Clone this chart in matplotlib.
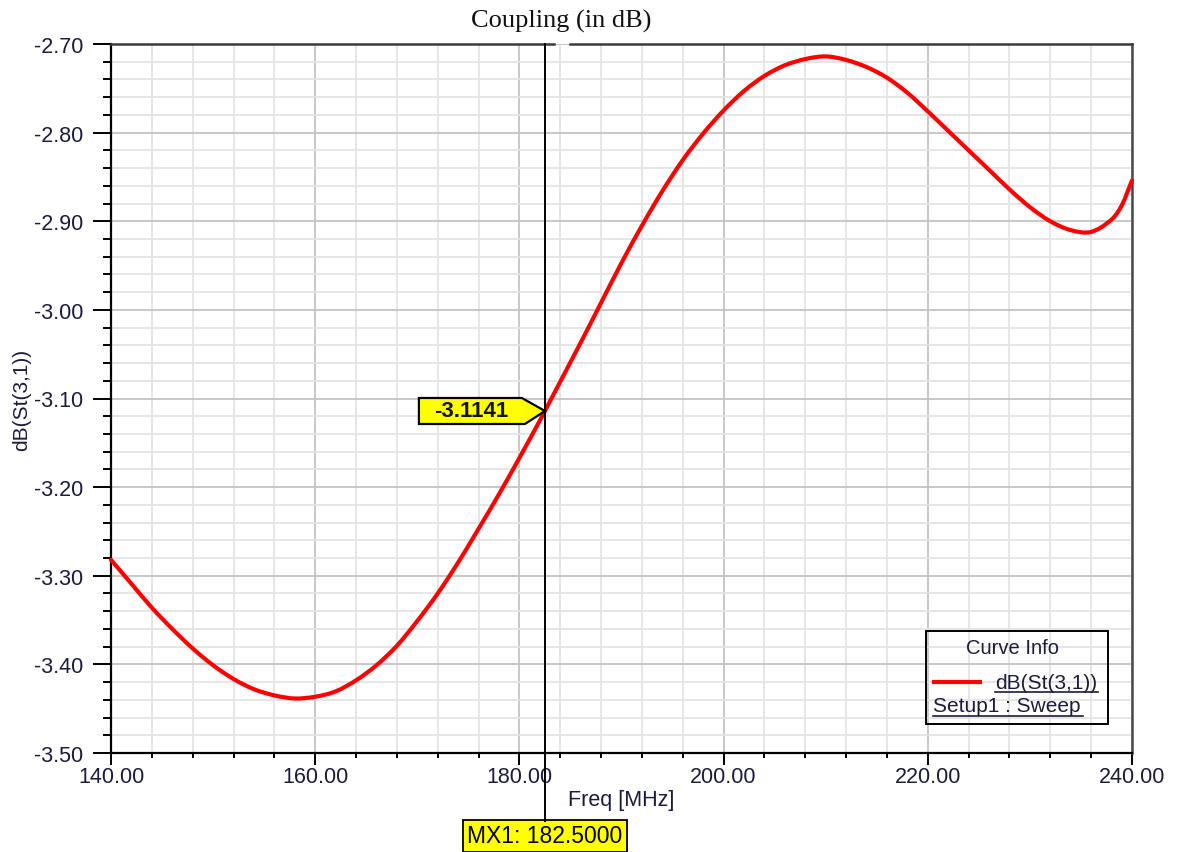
import matplotlib
matplotlib.use("Agg")
import matplotlib.pyplot as plt
import matplotlib.transforms as mtransforms
from matplotlib.patches import Polygon, Rectangle, PathPatch
from matplotlib.path import Path
from matplotlib.lines import Line2D
from matplotlib.ticker import MultipleLocator, FormatStrFormatter

# Swept coupling response dB(St(3,1)) versus frequency
freq_mhz = [140, 142, 144, 146, 148, 150, 152, 154, 156, 158, 160, 162, 164, 166,
            168, 170, 172, 174, 176, 178, 180, 182, 182.5, 184, 186, 188, 190, 192,
            194, 196, 198, 200, 202, 204, 206, 208, 210, 212, 214, 216, 218, 220,
            222, 224, 226, 228, 230, 232, 234, 236, 238, 239, 240]
coupling_db = [-3.282, -3.309, -3.336, -3.360, -3.382, -3.401, -3.4165, -3.428,
               -3.435, -3.4385, -3.4365, -3.4305, -3.418, -3.401, -3.379, -3.351,
               -3.320, -3.285, -3.247, -3.208, -3.167, -3.125, -3.1141, -3.081,
               -3.037, -2.992, -2.947, -2.905, -2.866, -2.831, -2.801, -2.775,
               -2.753, -2.736, -2.724, -2.717, -2.714, -2.718, -2.726, -2.738,
               -2.755, -2.776, -2.798, -2.820, -2.842, -2.864, -2.884, -2.900,
               -2.910, -2.912, -2.898, -2.882, -2.854]

marker_freq = 182.5
marker_val = -3.1141

x_range = (140, 240)
y_range = (-3.50, -2.70)

W, H = 1181, 853
DPI = 100


def fx(px):
    return px / W


def fy(py):
    return 1 - py / H


def smooth_path(xs, ys):
    """Cubic Hermite path through every sample (finite-difference tangents)."""
    n = len(xs)
    slopes = []
    for i in range(n):
        if i == 0:
            slopes.append((ys[1] - ys[0]) / (xs[1] - xs[0]))
        elif i == n - 1:
            slopes.append((ys[-1] - ys[-2]) / (xs[-1] - xs[-2]))
        else:
            slopes.append((ys[i + 1] - ys[i - 1]) / (xs[i + 1] - xs[i - 1]))
    verts = [(xs[0], ys[0])]
    codes = [Path.MOVETO]
    for i in range(n - 1):
        h = xs[i + 1] - xs[i]
        verts += [(xs[i] + h / 3, ys[i] + slopes[i] * h / 3),
                  (xs[i + 1] - h / 3, ys[i + 1] - slopes[i + 1] * h / 3),
                  (xs[i + 1], ys[i + 1])]
        codes += [Path.CURVE4] * 3
    return Path(verts, codes)


label_color = "#1c1c3a"
sans = ["Liberation Sans", "Arial", "DejaVu Sans"]
serif = ["Liberation Serif", "Times New Roman", "DejaVu Serif"]

fig = plt.figure(figsize=(W / DPI, H / DPI), dpi=DPI, facecolor="white")
ax = fig.add_axes([fx(111), fy(754), fx(1132) - fx(111), fy(45) - fy(754)])
ax.set_facecolor("white")

ax.set_xlim(*x_range)
ax.set_ylim(*y_range)

ax.xaxis.set_major_locator(MultipleLocator(20))
ax.xaxis.set_minor_locator(MultipleLocator(4))
ax.yaxis.set_major_locator(MultipleLocator(0.1))
ax.yaxis.set_minor_locator(MultipleLocator(0.02))
ax.xaxis.set_major_formatter(FormatStrFormatter("%.2f"))
ax.yaxis.set_major_formatter(FormatStrFormatter("%.2f"))

ax.grid(which="minor", color="#e4e4e4", linewidth=1.3, zorder=0)
ax.grid(which="major", color="#c4c4c4", linewidth=1.3, zorder=0)
ax.set_axisbelow(True)

ax.tick_params(axis="y", which="major", direction="out", length=13, width=1.4,
               color="black", pad=7, labelsize=15.5, labelcolor=label_color)
ax.tick_params(axis="y", which="minor", direction="out", length=6, width=1.4,
               color="black")
ax.tick_params(axis="x", which="major", direction="out", length=8.5, width=1.4,
               color="black", pad=1, labelsize=15.5, labelcolor=label_color)
ax.tick_params(axis="x", which="minor", direction="out", length=3.5, width=1.4,
               color="black")
for lab in ax.get_xticklabels() + ax.get_yticklabels():
    lab.set_family(sans)

ax.spines["left"].set_linewidth(1.6)
ax.spines["bottom"].set_linewidth(1.6)
ax.spines["right"].set_linewidth(1.8)
ax.spines["right"].set_color("#4a4a4a")
ax.spines["top"].set_visible(False)

# top frame line, broken where the title sits over it
for x0, x1 in [(111, 554), (570, 1132)]:
    fig.add_artist(Line2D([fx(x0), fx(x1)], [fy(45), fy(45)],
                          transform=fig.transFigure, color="#3a3a3a",
                          linewidth=1.8))

ax.set_xlabel("Freq [MHz]", family=sans, fontsize=15.5, color=label_color,
              labelpad=1)
ax.set_ylabel("dB(St(3,1))", family=sans, fontsize=15, color=label_color,
              labelpad=2)
fig.text(fx(561), fy(21), "Coupling (in dB)", family=serif, fontsize=19,
         color="#101010", ha="center", va="center")

# response curve
curve = PathPatch(smooth_path(freq_mhz, coupling_db), facecolor="none",
                  edgecolor="#ff0000", linewidth=3.0, capstyle="round",
                  joinstyle="round", zorder=3, clip_on=False)
ax.add_patch(curve)

# marker line running down to the frequency readout
blend = mtransforms.blended_transform_factory(ax.transData, fig.transFigure)
fig.add_artist(Line2D([marker_freq, marker_freq], [fy(45), fy(822)],
                      transform=blend, color="black", linewidth=1.4, zorder=4))
fig.text(marker_freq, fy(837), "MX1: 182.5000", transform=blend,
         family=sans, fontsize=16.5, color="black", ha="center", va="center",
         bbox=dict(boxstyle="square,pad=0.2", fc="#ffff00", ec="black",
                   lw=1.3))

# value flag pointing at the marker position
flag_tr = mtransforms.Affine2D() + mtransforms.ScaledTranslation(
    marker_freq, marker_val, ax.transData)
flag = Polygon([(0, 0), (-23, 13), (-126, 13), (-126, -13), (-20, -13)],
               closed=True, transform=flag_tr, facecolor="#ffff00",
               edgecolor="black", linewidth=1.6, zorder=5, clip_on=False)
ax.add_patch(flag)
ax.text(-74, 0, "%.4f" % marker_val, transform=flag_tr, family=sans,
        fontsize=16, fontweight="bold", color="#141414", ha="center",
        va="center", zorder=6)

# curve info panel
fig.add_artist(Rectangle((fx(926), fy(725)), fx(1108) - fx(926),
                         fy(632) - fy(725), transform=fig.transFigure,
                         fill=False, edgecolor="black", linewidth=1.4))
fig.text(fx(1013), fy(649), "Curve Info", family=sans, fontsize=14.5,
         color=label_color, ha="center", va="center")
fig.add_artist(Line2D([fx(934), fx(980)], [fy(683), fy(683)],
                      transform=fig.transFigure, color="#ff0000",
                      linewidth=3.0))
fig.text(fx(995), fy(684), "dB(St(3,1))", family=sans, fontsize=15,
         color=label_color, ha="left", va="center")
fig.add_artist(Line2D([fx(995), fx(1098)], [fy(693), fy(693)],
                      transform=fig.transFigure, color=label_color,
                      linewidth=1.2))
fig.text(fx(933), fy(707), "Setup1 : Sweep", family=sans, fontsize=15,
         color=label_color, ha="left", va="center")
fig.add_artist(Line2D([fx(933), fx(1083)], [fy(717), fy(717)],
                      transform=fig.transFigure, color=label_color,
                      linewidth=1.2))

fig.savefig("out.png", dpi=DPI, facecolor="white")
